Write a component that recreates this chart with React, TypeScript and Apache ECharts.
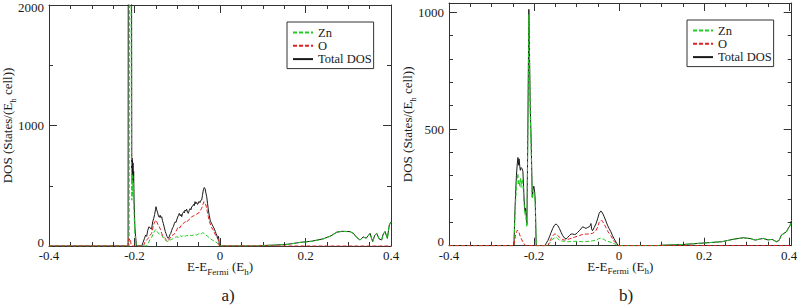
import React, { useEffect, useRef } from 'react';
import * as echarts from 'echarts';

// ---------- data: panel a) ----------
const seriesNames = ['Zn', 'O', 'Total DOS'];
const xTickValues = [-0.4, -0.2, 0, 0.2, 0.4];
const xTickLabels = ['-0.4', '-0.2', '0', '0.2', '0.4'];
const yTickLabelsA = ['0', '1000', '2000'];
const yTickLabelsB = ['0', '500', '1000'];
const captions = ['a)', 'b)'];

const totalA: [number, number][] = [
  [-0.4, 0], [-0.215, 0], [-0.2146, 2600], [-0.207, 2600], [-0.2063, 620], [-0.2058, 730], [-0.2053, 540],
  [-0.2047, 710], [-0.2041, 560], [-0.2035, 690], [-0.2028, 500], [-0.202, 620], [-0.201, 380], [-0.199, 150],
  [-0.1955, 0],
  [-0.183, 0], [-0.18, 30], [-0.177, 60], [-0.174, 90], [-0.1715, 80], [-0.169, 130], [-0.166, 160], [-0.1637, 150],
  [-0.16, 140], [-0.1575, 200], [-0.155, 230], [-0.153, 260], [-0.151, 300], [-0.1497, 326], [-0.148, 300],
  [-0.1457, 275], [-0.144, 250], [-0.142, 238], [-0.14, 255], [-0.138, 235], [-0.1364, 243], [-0.1345, 210],
  [-0.1326, 187], [-0.13, 150], [-0.128, 120], [-0.1263, 104], [-0.124, 80], [-0.121, 63], [-0.119, 75],
  [-0.117, 95], [-0.1153, 104], [-0.113, 130], [-0.111, 150], [-0.109, 160], [-0.107, 185], [-0.105, 200],
  [-0.103, 195], [-0.1013, 216], [-0.099, 240], [-0.097, 255], [-0.0952, 271], [-0.093, 250], [-0.091, 262],
  [-0.0896, 243], [-0.0875, 270], [-0.085, 285], [-0.083, 275], [-0.0819, 299], [-0.08, 290], [-0.078, 305],
  [-0.076, 280], [-0.0741, 271], [-0.072, 295], [-0.07, 310], [-0.068, 300], [-0.0662, 326], [-0.064, 330],
  [-0.062, 345], [-0.06, 335], [-0.0585, 368], [-0.0565, 350], [-0.0545, 362], [-0.0525, 345], [-0.0507, 354],
  [-0.049, 370], [-0.047, 360], [-0.045, 378], [-0.0428, 382], [-0.041, 420], [-0.039, 465], [-0.037, 485],
  [-0.0351, 479], [-0.033, 440], [-0.0311, 409], [-0.029, 350], [-0.0273, 299], [-0.025, 250], [-0.023, 215],
  [-0.0218, 202], [-0.02, 190], [-0.018, 175], [-0.0157, 160], [-0.013, 140], [-0.011, 120], [-0.0094, 104],
  [-0.0075, 90], [-0.0054, 63], [-0.0035, 80], [-0.0016, 10], [0, 0],
  [0.09, 0], [0.1, 4], [0.13, 8], [0.16, 15], [0.187, 30], [0.215, 40], [0.242, 60], [0.26, 85], [0.273, 115],
  [0.285, 122], [0.304, 120], [0.312, 105], [0.32, 70], [0.3275, 50], [0.335, 75], [0.342, 65], [0.351, 105],
  [0.357, 36], [0.362, 90], [0.3665, 105], [0.372, 60], [0.378, 50], [0.382, 100], [0.386, 120], [0.3915, 64],
  [0.396, 174], [0.4, 200],
];

const znA: [number, number][] = [
  [-0.4, 0], [-0.2125, 0], [-0.2118, 2600], [-0.2085, 2600], [-0.207, 560], [-0.2062, 380], [-0.2055, 600],
  [-0.2048, 430], [-0.204, 580], [-0.2032, 400], [-0.2024, 520], [-0.2015, 330], [-0.1995, 120], [-0.196, 0],
  [-0.172, 0], [-0.168, 20], [-0.1637, 55], [-0.16, 70], [-0.156, 104], [-0.153, 125], [-0.1497, 138],
  [-0.147, 120], [-0.144, 104], [-0.14, 98], [-0.1364, 91], [-0.133, 70], [-0.1287, 50], [-0.125, 42],
  [-0.121, 36], [-0.117, 48], [-0.113, 55], [-0.109, 63], [-0.105, 72], [-0.1013, 77], [-0.097, 70],
  [-0.093, 85], [-0.089, 78], [-0.0858, 91], [-0.082, 80], [-0.078, 88], [-0.0741, 83], [-0.07, 90],
  [-0.066, 86], [-0.0624, 91], [-0.058, 95], [-0.054, 90], [-0.0507, 99], [-0.047, 104], [-0.044, 100],
  [-0.0405, 110], [-0.037, 104], [-0.0328, 91], [-0.029, 80], [-0.0234, 63], [-0.018, 50], [-0.0117, 36],
  [-0.006, 25], [-0.0016, 0],
  [0.09, 0], [0.1, 3], [0.13, 7], [0.16, 14], [0.187, 29], [0.215, 39], [0.242, 59], [0.26, 84], [0.273, 113],
  [0.285, 121], [0.304, 118], [0.312, 104], [0.32, 69], [0.3275, 49], [0.335, 74], [0.342, 64], [0.351, 103],
  [0.357, 35], [0.362, 88], [0.3665, 103], [0.372, 59], [0.378, 49], [0.382, 98], [0.386, 118], [0.3915, 62],
  [0.396, 172], [0.4, 198],
];

const oA: [number, number][] = [
  [-0.4, 0], [-0.2152, 0], [-0.2145, 40], [-0.213, 60], [-0.211, 48], [-0.2095, 55], [-0.208, 10], [-0.206, 0],
  [-0.179, 0], [-0.176, 30], [-0.172, 50], [-0.1677, 63], [-0.164, 85], [-0.16, 104], [-0.157, 150],
  [-0.154, 190], [-0.152, 202], [-0.15, 215], [-0.148, 202], [-0.145, 175], [-0.142, 160], [-0.139, 135],
  [-0.1364, 104], [-0.133, 80], [-0.1287, 63], [-0.125, 50], [-0.121, 44], [-0.117, 65], [-0.113, 85],
  [-0.109, 95], [-0.1053, 104], [-0.101, 135], [-0.0975, 160], [-0.094, 150], [-0.091, 170], [-0.0896, 174],
  [-0.086, 185], [-0.0819, 202], [-0.078, 195], [-0.074, 216], [-0.07, 225], [-0.0662, 243], [-0.062, 250],
  [-0.0585, 257], [-0.0545, 265], [-0.0507, 271], [-0.047, 290], [-0.0428, 313], [-0.04, 345], [-0.0374, 368],
  [-0.035, 355], [-0.0328, 340], [-0.03, 290], [-0.0273, 243], [-0.0245, 200], [-0.0218, 174], [-0.019, 150],
  [-0.0157, 132], [-0.012, 100], [-0.0078, 77], [-0.004, 50], [-0.0016, 0], [0.4, 0],
];

// ---------- data: panel b) ----------
const totalB: [number, number][] = [
  [-0.4, 0], [-0.2473, 0], [-0.2449, 150], [-0.243, 240], [-0.2414, 300], [-0.2395, 350], [-0.2379, 378],
  [-0.2365, 345], [-0.2351, 372], [-0.2335, 340], [-0.2323, 323], [-0.2304, 335], [-0.2281, 330],
  [-0.2262, 318], [-0.2245, 250], [-0.2234, 200], [-0.2215, 150], [-0.2199, 160], [-0.218, 120], [-0.2168, 90],
  [-0.2145, 500], [-0.2122, 1013], [-0.2105, 800], [-0.2089, 596], [-0.2066, 439], [-0.2042, 210],
  [-0.2025, 240], [-0.2005, 255], [-0.1985, 230], [-0.1972, 196], [-0.1949, 0],
  [-0.174, 0], [-0.1715, 10], [-0.1675, 22], [-0.1637, 38], [-0.16, 56], [-0.156, 74], [-0.152, 88],
  [-0.1481, 93], [-0.144, 86], [-0.1404, 74], [-0.1365, 58], [-0.1326, 43], [-0.1285, 33], [-0.1247, 29],
  [-0.121, 35], [-0.117, 43], [-0.113, 50], [-0.109, 50], [-0.105, 48], [-0.1013, 50], [-0.0975, 57],
  [-0.0936, 64], [-0.0897, 72], [-0.0858, 81], [-0.082, 78], [-0.078, 74], [-0.074, 78], [-0.0702, 81],
  [-0.068, 86], [-0.0662, 95], [-0.0645, 72], [-0.0624, 64], [-0.0585, 78], [-0.0545, 93], [-0.0505, 115],
  [-0.0468, 139], [-0.0428, 149], [-0.039, 140], [-0.035, 124], [-0.031, 106], [-0.0273, 88], [-0.0235, 74],
  [-0.0194, 60], [-0.0155, 44], [-0.0117, 29], [-0.006, 12], [-0.0016, 0],
  [0.09, 0], [0.1, 2], [0.15, 5], [0.187, 10], [0.2417, 17], [0.27, 28], [0.292, 34], [0.31, 30], [0.32, 24],
  [0.33, 28], [0.339, 31], [0.35, 25], [0.36, 27], [0.37, 17], [0.376, 22], [0.382, 46], [0.3937, 60],
  [0.398, 75], [0.402, 85], [0.406, 112],
];

const znB: [number, number][] = [
  [-0.4, 0], [-0.2473, 0], [-0.2449, 130], [-0.243, 200], [-0.2414, 250], [-0.2395, 290], [-0.2379, 310],
  [-0.2365, 260], [-0.2351, 280], [-0.2335, 255], [-0.2318, 290], [-0.2304, 250], [-0.2281, 285],
  [-0.2262, 265], [-0.2245, 210], [-0.2234, 180], [-0.2215, 130], [-0.2199, 140], [-0.218, 100], [-0.2168, 80],
  [-0.2145, 480], [-0.2122, 990], [-0.2105, 780], [-0.2089, 560], [-0.2066, 400], [-0.2042, 200],
  [-0.2025, 220], [-0.2005, 230], [-0.1985, 205], [-0.1972, 180], [-0.1949, 0],
  [-0.168, 0], [-0.1637, 10], [-0.16, 20], [-0.156, 29], [-0.1481, 36], [-0.144, 30], [-0.1404, 24],
  [-0.134, 20], [-0.1287, 19], [-0.123, 17], [-0.117, 17], [-0.11, 18], [-0.1013, 19], [-0.094, 18],
  [-0.0858, 17], [-0.078, 18], [-0.0702, 19], [-0.062, 21], [-0.0545, 24], [-0.049, 29], [-0.0428, 33],
  [-0.039, 30], [-0.035, 26], [-0.03, 21], [-0.0234, 17], [-0.017, 13], [-0.0117, 9], [-0.006, 4], [-0.0016, 0],
  [0.09, 0], [0.1, 2], [0.15, 5], [0.187, 10], [0.2417, 17], [0.27, 28], [0.292, 34], [0.31, 30], [0.32, 24],
  [0.33, 28], [0.339, 31], [0.35, 25], [0.36, 27], [0.37, 17], [0.376, 22], [0.382, 45], [0.3937, 59],
  [0.398, 74], [0.402, 84], [0.406, 110],
];

const oB: [number, number][] = [
  [-0.4, 0], [-0.2473, 0], [-0.244, 40], [-0.241, 60], [-0.239, 67], [-0.237, 60], [-0.235, 55], [-0.2325, 40],
  [-0.23, 30], [-0.225, 12], [-0.22, 0],
  [-0.1677, 0], [-0.164, 15], [-0.16, 29], [-0.156, 42], [-0.152, 50], [-0.148, 50], [-0.144, 44],
  [-0.1404, 36], [-0.134, 28], [-0.1287, 24], [-0.123, 26], [-0.117, 29], [-0.111, 33], [-0.1053, 36],
  [-0.099, 40], [-0.0936, 43], [-0.088, 47], [-0.0819, 50], [-0.076, 50], [-0.0702, 50], [-0.0624, 53],
  [-0.0545, 64], [-0.05, 82], [-0.0468, 100], [-0.0413, 110], [-0.038, 102], [-0.035, 93], [-0.031, 78],
  [-0.0273, 64], [-0.0235, 53], [-0.0194, 43], [-0.0155, 30], [-0.0117, 19], [-0.006, 8], [-0.0016, 0], [0.406, 0],
];

// ---------- styling ----------
const serif = 'Liberation Serif, Times New Roman, Times, serif';
const axisColor = '#333';
const textColor = '#1a1a1a';
const colors: Record<string, string> = { Zn: '#22cc22', O: '#e02020', 'Total DOS': '#1a1a1a' };

const fmtX = (v: number) => {
  const i = xTickValues.findIndex((t) => Math.abs(t - v) < 1e-6);
  return i >= 0 ? xTickLabels[i] : '';
};

const richName = {
  a: { fontSize: 13, fontFamily: serif, color: textColor, verticalAlign: 'bottom', lineHeight: 13, padding: [0, 0, 3, 0] },
  s: { fontSize: 9, fontFamily: serif, color: textColor, verticalAlign: 'bottom', lineHeight: 9 },
};
const xName = '{a|E-E}{s|Fermi}{a| (E}{s|h}{a|)}';
const yName = '{a|DOS (States/(E}{s|h}{a| cell))}';

const tickStyle = { color: axisColor };

// kind: 'major' draws the frame line, labels and (optionally) minor ticks; 'minor' only draws short ticks
const mkX = (gridIndex: number, position: string, labels: boolean, max: number, kind: 'full' | 'major' | 'minor') => ({
  type: 'value', gridIndex, position, min: -0.4, max, interval: kind === 'minor' ? 0.05 : 0.2,
  axisLine: { show: kind !== 'minor', onZero: false, lineStyle: { color: axisColor, width: 1 } },
  axisTick: { show: true, inside: true, length: kind === 'minor' ? 4 : 8, lineStyle: tickStyle },
  minorTick: { show: kind === 'full', splitNumber: 4, length: 4, lineStyle: tickStyle },
  splitLine: { show: false }, minorSplitLine: { show: false },
  axisLabel: { show: labels, formatter: fmtX, margin: 5, fontSize: 13, lineHeight: 9, fontFamily: serif, color: textColor },
  ...(labels ? {
    name: xName, nameLocation: 'middle', nameGap: 17, nameMoveOverlap: false,
    nameTextStyle: { fontFamily: serif, rich: richName },
  } : {}),
});

const mkYA = (position: string, labels: boolean) => ({
  type: 'value', gridIndex: 0, position, min: 0, max: 2000, interval: 1000,
  axisLine: { show: true, onZero: false, lineStyle: { color: axisColor, width: 1 } },
  axisTick: { show: true, inside: true, length: 8, lineStyle: tickStyle },
  minorTick: { show: true, splitNumber: 2, length: 4, lineStyle: tickStyle },
  splitLine: { show: false }, minorSplitLine: { show: false },
  axisLabel: {
    show: labels, margin: 5, fontSize: 13, lineHeight: 8, fontFamily: serif, color: textColor,
    verticalAlignMinLabel: 'bottom',
    rich: { t: { fontSize: 13, fontFamily: serif, color: textColor, lineHeight: 8, padding: [5, 0, 0, 0] } },
    formatter: (v: number) => {
      const s = yTickLabelsA[Math.round(v / 1000)] ?? '';
      return v === 2000 ? `{t|${s}}` : s;
    },
  },
  ...(labels ? {
    name: yName, nameLocation: 'middle', nameRotate: 90, nameGap: 32, nameMoveOverlap: false,
    nameTextStyle: { fontFamily: serif, rich: richName },
  } : {}),
});

const mkYB = (position: string, labels: boolean, minor: boolean) => ({
  type: 'value', gridIndex: 1, position, min: 0, max: 1040, interval: minor ? 100 : 500,
  axisLine: { show: !minor, onZero: false, lineStyle: { color: axisColor, width: 1 } },
  axisTick: { show: true, inside: true, length: minor ? 4 : 8, lineStyle: tickStyle },
  splitLine: { show: false },
  axisLabel: {
    show: labels, margin: 5, fontSize: 13, lineHeight: 8, fontFamily: serif, color: textColor,
    verticalAlignMinLabel: 'bottom',
    formatter: (v: number) => (v % 500 === 0 ? yTickLabelsB[v / 500] ?? '' : ''),
  },
  ...(labels ? {
    name: yName, nameLocation: 'middle', nameRotate: 90, nameGap: 32, nameMoveOverlap: false,
    nameTextStyle: { fontFamily: serif, rich: richName },
  } : {}),
});

const mkSeries = (name: string, data: [number, number][], xi: number, yi: number, z: number) => ({
  type: 'line', name, data, xAxisIndex: xi, yAxisIndex: yi, z,
  symbol: 'none', showSymbol: false, clip: true,
  itemStyle: { color: colors[name] },
  lineStyle: { color: colors[name], width: 1, type: name === 'Total DOS' ? 'solid' : [4, 2] },
});

const mkLegend = (left: number, top: number) => ({
  left, top, orient: 'vertical', data: seriesNames, selectedMode: false,
  backgroundColor: '#fff', borderColor: axisColor, borderWidth: 1, padding: [4, 2, 3, 5],
  itemWidth: 20, itemHeight: 11, itemGap: 0.3,
  itemStyle: { opacity: 0 },
  textStyle: { fontSize: 12.5, fontFamily: serif, color: textColor, lineHeight: 11 },
});

const maxB = 0.406;

const option = {
  animation: false,
  backgroundColor: '#fff',
  textStyle: { fontFamily: serif },
  grid: [
    { left: 49, top: 5, width: 342, height: 241, show: false, containLabel: false, outerBoundsMode: 'none' },
    { left: 449, top: 3, width: 342.7, height: 242.7, show: false, containLabel: false, outerBoundsMode: 'none' },
  ],
  xAxis: [
    mkX(0, 'bottom', true, 0.4, 'full'), mkX(0, 'top', false, 0.4, 'full'),
    mkX(1, 'bottom', true, maxB, 'major'), mkX(1, 'top', false, maxB, 'major'),
    mkX(1, 'bottom', false, maxB, 'minor'), mkX(1, 'top', false, maxB, 'minor'),
  ],
  yAxis: [
    mkYA('left', true), mkYA('right', false),
    mkYB('left', true, false), mkYB('left', false, true), mkYB('right', false, false), mkYB('right', false, true),
  ],
  legend: [mkLegend(287, 22), mkLegend(687, 20)],
  series: [
    mkSeries('Total DOS', totalA, 0, 0, 2),
    mkSeries('Zn', znA, 0, 0, 3),
    mkSeries('O', oA, 0, 0, 4),
    mkSeries('Total DOS', totalB, 2, 2, 2),
    mkSeries('Zn', znB, 2, 2, 3),
    mkSeries('O', oB, 2, 2, 4),
  ],
  graphic: [
    { type: 'text', x: 228, y: 295, style: { text: captions[0], fontSize: 17, fontFamily: serif, fill: textColor, align: 'center', verticalAlign: 'middle' } },
    { type: 'text', x: 626, y: 295, style: { text: captions[1], fontSize: 17, fontFamily: serif, fill: textColor, align: 'center', verticalAlign: 'middle' } },
  ],
};

export default function App() {
  const ref = useRef<HTMLDivElement>(null);
  useEffect(() => {
    if (!ref.current) return;
    const chart = echarts.init(ref.current, null, { renderer: 'svg' });
    chart.setOption(option as any);
    return () => chart.dispose();
  }, []);
  return <div ref={ref} style={{ position: 'absolute', left: 0, top: 0, width: 797, height: 308 }} />;
}
